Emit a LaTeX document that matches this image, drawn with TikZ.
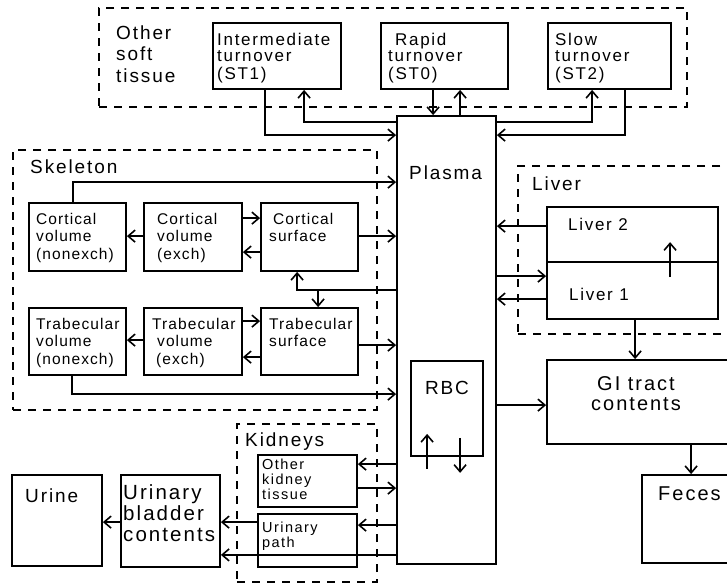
\documentclass[tikz,border=0pt]{standalone}
\usepackage{fontspec}
\setmainfont{Liberation Sans}[LetterSpace=10]
\usetikzlibrary{arrows.meta,fit}
% multi-line labels whose baseline is that of the first line
\newcommand{\txtl}[1]{\begin{tabular}[t]{@{}l@{}}#1\end{tabular}}
\newcommand{\txtc}[1]{\begin{tabular}[t]{@{}c@{}}#1\end{tabular}}
\begin{document}
\begin{tikzpicture}[x=1pt,y=-1pt,
  box/.style={draw, line width=1.8pt, inner sep=0pt},
  grp/.style={draw, line width=1.6pt, dash pattern=on 8pt off 7pt, inner sep=0pt},
  flow/.style={line width=1.6pt, -{Straight Barb[length=7pt,width=12pt,line width=1.6pt]}},
  txt/.style={inner sep=0pt, anchor=base west},
  fbig/.style={font=\fontsize{19pt}{21.5pt}\selectfont},
  fgi/.style={font=\fontsize{20pt}{20pt}\selectfont},
  fbl/.style={font=\fontsize{20.5pt}{21pt}\selectfont},
  ftop/.style={font=\fontsize{17pt}{16.7pt}\selectfont},
  fskl/.style={font=\fontsize{15.5pt}{17.7pt}\selectfont\addfontfeatures{LetterSpace=7}},
  fkid/.style={font=\fontsize{14.5pt}{15pt}\selectfont}]
\clip (0,0) rectangle (727,584);
\fill[white] (0,0) rectangle (727,584);

% compartment groups
\node[grp, fit={(99,8) (687,107)}] (ostg) {};
\node[grp, fit={(13,150) (377,410)}] (skelg) {};
\node[grp, fit={(518,166) (745,334)}] (liverg) {};
\node[grp, fit={(237,424) (377,582)}] (kidg) {};

% compartments
\node[box, fit={(213,23) (341,89)}] (st1) {};
\node[box, fit={(381,23) (508,89)}] (st0) {};
\node[box, fit={(548,23) (671,89)}] (st2) {};
\node[box, fit={(397,116) (496,564)}] (plasma) {};
\node[box, fit={(29,203) (126,271)}] (cvn) {};
\node[box, fit={(144,203) (242,271)}] (cve) {};
\node[box, fit={(261,203) (358,271)}] (cs) {};
\node[box, fit={(29,308) (126,375)}] (tvn) {};
\node[box, fit={(144,308) (242,375)}] (tve) {};
\node[box, fit={(261,308) (358,375)}] (ts) {};
\node[box, fit={(547,207) (718,262)}] (liver2) {};
\node[box, fit={(547,262) (718,319)}] (liver1) {};
\node[box, fit={(547,360) (740,444)}] (gi) {};
\node[box, fit={(642,475) (740,563)}] (feces) {};
\node[box, fit={(411,361) (483,456)}] (rbc) {};
\node[box, fit={(258,455) (357,507)}] (okt) {};
\node[box, fit={(258,514) (357,567)}] (upath) {};
\node[box, fit={(121,475) (220,567)}] (bladder) {};
\node[box, fit={(12,475) (102,566)}] (urine) {};

% labels
\node[txt, fbig] (ostlbl) at (116,39) {\txtl{Other\\soft\\tissue}};
\node[txt, ftop] (st1lbl) at (217,45) {\txtl{Intermediate\\turnover\\(ST1)}};
\node[txt, ftop] (st0lbl) at (388,45) {\txtl{\hspace*{7pt}Rapid\\turnover\\(ST0)}};
\node[txt, ftop] (st2lbl) at (555,45) {\txtl{Slow\\turnover\\(ST2)}};
\node[txt, fbig] (skellbl) at (30,173) {Skeleton};
\node[txt, fskl] (cvnlbl) at (36,224) {\txtl{Cortical\\volume\\(nonexch)}};
\node[txt, fskl] (cvelbl) at (157,224) {\txtl{Cortical\\volume\\(exch)}};
\node[txt, fskl] (cslbl) at (269,224) {\txtl{\hspace*{4pt}Cortical\\surface}};
\node[txt, fskl] (tvnlbl) at (36,329) {\txtl{Trabecular\\volume\\(nonexch)}};
\node[txt, fskl] (tvelbl) at (152,329) {\txtl{Trabecular\\\hspace*{5pt}volume\\\hspace*{4pt}(exch)}};
\node[txt, fskl] (tslbl) at (269,329) {\txtl{Trabecular\\surface}};
\node[txt, fbig] (plasmalbl) at (409,179) {Plasma};
\node[txt, fbig] (liverlbl) at (532,190) {Liver};
\node[txt, ftop] (liver2lbl) at (568,230) {Liver 2};
\node[txt, ftop] (liver1lbl) at (569,300) {Liver 1};
\node[inner sep=0pt, anchor=base, fgi] (gilbl) at (636,390) {\txtc{GI tract\\contents}};
\node[inner sep=0pt, anchor=base, fbig] (rbclbl) at (447,394) {RBC};
\node[txt, fgi] (feceslbl) at (658,500) {Feces};
\node[txt, fbig] (kidlbl) at (245,446) {Kidneys};
\node[txt, fkid] (oktlbl) at (262,469) {\txtl{Other\\kidney\\tissue}};
\node[txt, fkid] (upathlbl) at (262,532) {\txtl{Urinary\\path}};
\node[txt, fbl] (bladderlbl) at (123,499) {\txtl{Urinary\\bladder\\contents}};
\node[txt, fbig] (urinelbl) at (25,502) {Urine};

% other soft tissue exchange
\draw[flow] ([xshift=53pt]st1.south west) |- ([yshift=-20pt]plasma.north west);
\draw[flow] ([yshift=-7pt]plasma.north west) -| ([xshift=92pt]st1.south west);
\draw[flow] ([xshift=53pt]st0.south west) -- ([xshift=37pt]plasma.north west);
\draw[flow] ([xshift=64pt]plasma.north west) -- ([xshift=80pt]st0.south west);
\draw[flow] ([yshift=-7pt]plasma.north east) -| ([xshift=45pt]st2.south west);
\draw[flow] ([xshift=78pt]st2.south west) |- ([yshift=-20pt]plasma.north east);

% skeleton
\draw[flow] ([xshift=45pt]cvn.north west) |- ([yshift=-67pt]plasma.north west);
\draw[flow] ([yshift=-34pt]cs.north east) -- ([yshift=-121pt]plasma.north west);
\draw[flow] ([yshift=-34pt]cve.north west) -- ([yshift=-34pt]cvn.north east);
\draw[flow] ([yshift=-16pt]cve.north east) -- ([yshift=-16pt]cs.north west);
\draw[flow] ([yshift=-50pt]cs.north west) -- ([yshift=-50pt]cve.north east);
\draw[flow] ([yshift=-175pt]plasma.north west) -| ([xshift=37pt]cs.south west);
\draw[flow] ([xshift=58pt,yshift=17pt]ts.north west) -- ([xshift=58pt]ts.north west);
\draw[flow] ([yshift=-33pt]tve.north west) -- ([yshift=-33pt]tvn.north east);
\draw[flow] ([yshift=-14pt]tve.north east) -- ([yshift=-14pt]ts.north west);
\draw[flow] ([yshift=-50pt]ts.north west) -- ([yshift=-50pt]tve.north east);
\draw[flow] ([yshift=-38pt]ts.north east) -- ([yshift=-230pt]plasma.north west);
\draw[flow] ([xshift=44pt]tvn.south west) |- ([yshift=-279pt]plasma.north west);

% liver and GI tract
\draw[flow] ([yshift=-20pt]liver2.north west) -- ([yshift=-111pt]plasma.north east);
\draw[flow] ([yshift=-161pt]plasma.north east) -- ([yshift=-15pt]liver1.north west);
\draw[flow] ([yshift=-38pt]liver1.north west) -- ([yshift=-184pt]plasma.north east);
\coordinate (l1up) at ([xshift=124pt,yshift=-16pt]liver1.north west);
\coordinate (l2in) at ([xshift=124pt,yshift=-36pt]liver2.north west);
\draw[flow] (l1up) -- (l2in);
\draw[flow] ([xshift=89pt]liver1.south west) -- ([xshift=89pt]gi.north west);
\draw[flow] ([yshift=-290pt]plasma.north east) -- ([yshift=-46pt]gi.north west);
\draw[flow] ([xshift=145pt]gi.south west) -- ([xshift=50pt]feces.north west);

% red blood cells
\draw[flow] ([xshift=17pt,yshift=-12pt]rbc.south west) -- ([xshift=17pt,yshift=23pt]rbc.south west);
\draw[flow] ([xshift=50pt,yshift=19pt]rbc.south west) -- ([xshift=50pt,yshift=-16pt]rbc.south west);

% kidneys and urinary path
\draw[flow] ([yshift=-349pt]plasma.north west) -- ([yshift=-10pt]okt.north east);
\draw[flow] ([yshift=-34pt]okt.north east) -- ([yshift=-373pt]plasma.north west);
\draw[flow] ([yshift=-410pt]plasma.north west) -- ([yshift=-12pt]upath.north east);
\draw[flow] ([yshift=-9pt]upath.north west) -- ([yshift=-48pt]bladder.north east);
\draw[flow] ([yshift=10pt]plasma.south west) -- ([yshift=13pt]bladder.south east);
\draw[flow] ([yshift=-48pt]bladder.north west) -- ([yshift=-48pt]urine.north east);
\end{tikzpicture}
\end{document}
